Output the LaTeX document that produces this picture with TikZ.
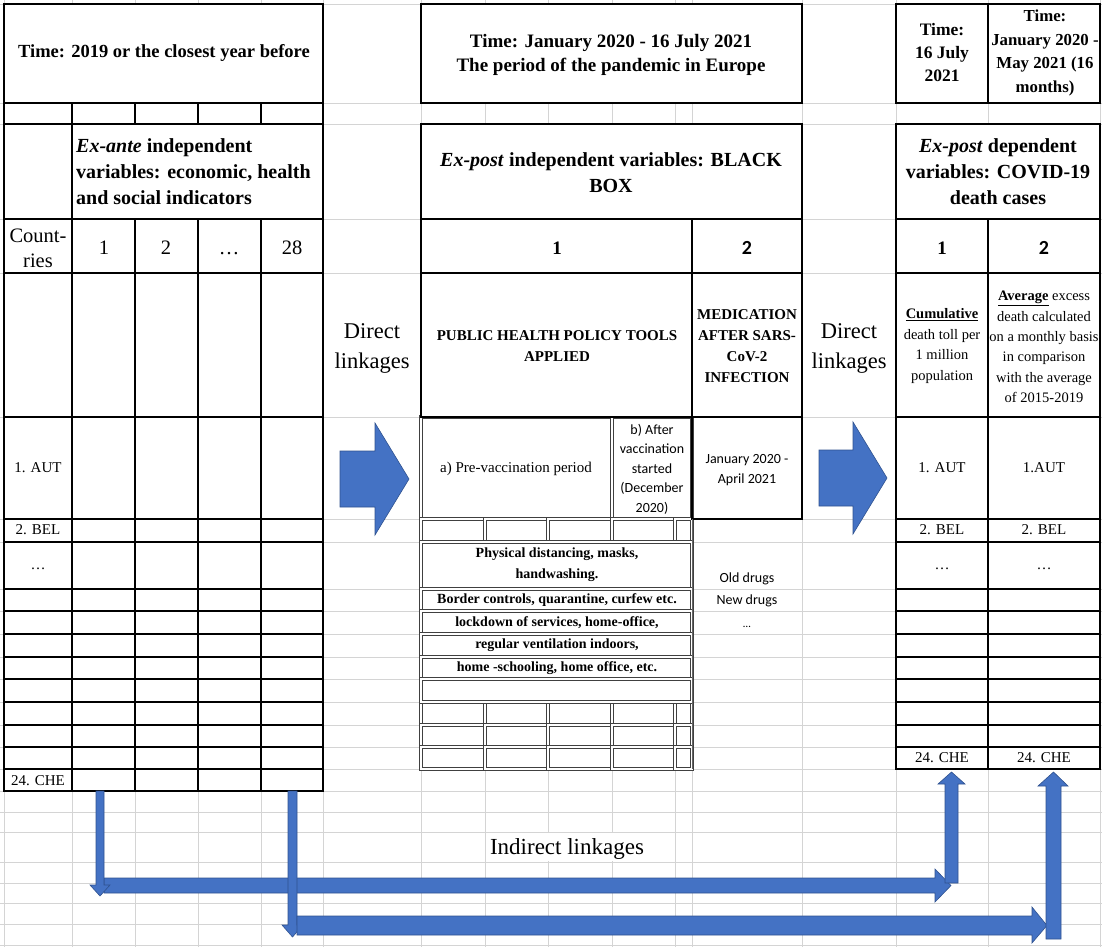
\documentclass[tikz,border=0pt]{standalone}
\usepackage{fontspec}
\setmainfont{Liberation Serif}
\newfontfamily\calibri{Carlito}

\definecolor{gridgray}{HTML}{D4D4D4}
\definecolor{arrowblue}{HTML}{4472C4}
\definecolor{arrowedge}{HTML}{2F528F}

\newcommand{\fsz}[2]{\fontsize{#1}{#2}\selectfont}
% cell with an Excel-like double border
\newcommand{\dblcell}[4]{%
  \filldraw[fill=white, dblline] (#1-1.4,#2-1.4) rectangle (#3+1.4,#4+1.4);
  \draw[dblline] (#1+1.4,#2+1.4) rectangle (#3-1.4,#4-1.4);}

\tikzset{
  gridline/.style={draw=gridgray, line width=0.9pt},
  thinbox/.style={draw=black, line width=1.1pt},
  thickbox/.style={draw=black, line width=2.2pt},
  dblline/.style={draw=black!75, line width=0.6pt},
  blockarrow/.style={fill=arrowblue, draw=arrowedge, line width=0.6pt, line join=miter},
  lbl/.style={align=center, inner sep=0pt},
}

\begin{document}
\begin{tikzpicture}[x=1pt, y=-1pt]
  \useasboundingbox (0,0) rectangle (1102,947);

  % Spreadsheet grid in the background
  \foreach \x in {4,72,135,198,261,323,421,485,548,612,675,692,802,896,988,1100}
    \draw[gridline] (\x,0) -- (\x,947);
  \foreach \y in {4,103,124,219,273,417,519,542,589,611,634,657,679,702,725,747,769,791,812,832,862,883,903,924,945}
    \draw[gridline] (0,\y) -- (1102,\y);

  % Left table: ex-ante variables
  \filldraw[fill=white, draw=black, line width=1.8pt] (4,4) rectangle (323,103);
  \filldraw[fill=white, thinbox] (4,103) rectangle (323,791);
  \foreach \y in {124,219,273,417,519,542,589,611,634,657,679,702,725,747,769}
    \draw[thinbox] (4,\y) -- (323,\y);
  \draw[thinbox] (72,103) -- (72,791);
  \foreach \x in {135,198,261} {
    \draw[thinbox] (\x,103) -- (\x,124);
    \draw[thinbox] (\x,219) -- (\x,791);
  }

  % Black box
  \filldraw[fill=white, thickbox] (421,4) rectangle (802,103);
  \filldraw[fill=white, thickbox] (421,124) rectangle (802,219);
  \filldraw[fill=white, thickbox] (421,219) rectangle (692,273);
  \filldraw[fill=white, thickbox] (692,219) rectangle (802,273);
  \dblcell{421}{417}{612}{519}
  \dblcell{612}{417}{692}{519}
  \foreach \y/\yy in {519/542, 702/725, 725/747, 747/769}
    \foreach \x/\xx in {421/485, 485/548, 548/612, 612/675, 675/692}
      \dblcell{\x}{\y}{\xx}{\yy};
  \foreach \y/\yy in {542/589, 589/611, 611/634, 634/657, 657/679, 679/702}
    \dblcell{421}{\y}{692}{\yy};
  \filldraw[fill=white, thinbox] (421,273) rectangle (692,417);
  \filldraw[fill=white, thinbox] (692,273) rectangle (802,417);
  \draw[thinbox] (692,417) rectangle (802,519);
  \draw[draw=black!60, line width=0.8pt] (692,519) -- (692,769);

  % Right table: ex-post dependent variables
  \filldraw[fill=white, draw=black, line width=2pt] (896,4) rectangle (1100,103);
  \draw[black, line width=2pt] (988,4) -- (988,103);
  \filldraw[fill=white, thinbox] (896,124) rectangle (1100,219);
  \draw[thinbox] (896,219) rectangle (1100,769);
  \draw[thinbox] (988,219) -- (988,769);
  \foreach \y in {273,417,519,542,589,611,634,657,679,702,725,747}
    \draw[thinbox] (896,\y) -- (1100,\y);

  % Left table texts
  \node[lbl, font=\fsz{18.5}{22}\bfseries] (timeleft) at (164,53) {Time: 2019 or the closest year before};
  \node[lbl, align=left, anchor=west, font=\fsz{20}{26}\bfseries] (exante) at (76,172)
    {\textit{Ex-ante} independent\\variables: economic, health\\and social indicators};
  \node[lbl, font=\fsz{20.5}{25}] (countries) at (38,248) {Count-\\ries};
  \node[lbl, font=\fsz{20.5}{25}] (var1) at (104,248) {1};
  \node[lbl, font=\fsz{20.5}{25}] (var2) at (166,248) {2};
  \node[lbl, font=\fsz{20.5}{25}] (var3) at (229,254) {…};
  \node[lbl, font=\fsz{20.5}{25}] (var28) at (292,248) {28};
  \node[lbl, font=\fsz{15}{18}] (autL) at (38,468) {1. AUT};
  \node[lbl, font=\fsz{15}{18}] (belL) at (38,530) {2. BEL};
  \node[lbl, font=\fsz{15}{18}] (dotsL) at (38,569) {…};
  \node[lbl, font=\fsz{15}{18}] (cheL) at (38,781) {24. CHE};

  % Direct linkages
  \node[lbl, font=\fsz{22.5}{30}] (direct1) at (372,348) {Direct\\linkages};
  \node[lbl, font=\fsz{22.5}{30}] (direct2) at (849,348) {Direct\\linkages};
  \filldraw[blockarrow] (340,451) -- (375,451) -- (375,423) -- (409,479) -- (375,535) -- (375,507) -- (340,507) -- cycle;
  \filldraw[blockarrow] (819,450) -- (853,450) -- (853,422) -- (887,478) -- (853,534) -- (853,506) -- (819,506) -- cycle;

  % Black box texts
  \node[lbl, font=\fsz{19}{24}\bfseries] (timemid) at (611,55)
    {Time: January 2020 - 16 July 2021\\The period of the pandemic in Europe};
  \node[lbl, font=\fsz{20}{26}\bfseries] (expostind) at (611,173)
    {\textit{Ex-post} independent variables: BLACK\\BOX};
  \node[lbl, font=\fsz{19}{24}\bfseries] (box1) at (557,248) {1};
  \node[lbl, font=\fsz{20}{24}\calibri\bfseries] (box2) at (747,248) {2};
  \node[lbl, font=\fsz{15}{21}\bfseries] (policy) at (557,346) {PUBLIC HEALTH POLICY TOOLS\\APPLIED};
  \node[lbl, font=\fsz{15}{21}\bfseries] (medic) at (747,346) {MEDICATION\\AFTER SARS-\\CoV-2\\INFECTION};
  \node[lbl, font=\fsz{15}{18}] (prevac) at (516,469) {a) Pre-vaccination period};
  \node[lbl, font=\fsz{14}{19.5}\calibri] (aftervac) at (652,469) {b) After\\vaccination\\started\\(December\\2020)};
  \node[lbl, font=\fsz{14}{20}\calibri] (medperiod) at (747,470) {January 2020 -\\April 2021};
  \node[lbl, font=\fsz{14}{21}\bfseries] (tool1) at (557,565) {Physical distancing, masks,\\handwashing.};
  \node[lbl, font=\fsz{14}{21}\bfseries] (tool2) at (557,600) {Border controls, quarantine, curfew etc.};
  \node[lbl, font=\fsz{14}{21}\bfseries] (tool3) at (557,622.5) {lockdown of services, home-office,};
  \node[lbl, font=\fsz{14}{21}\bfseries] (tool4) at (557,645.5) {regular ventilation indoors,};
  \node[lbl, font=\fsz{14}{21}\bfseries] (tool5) at (557,668) {home -schooling, home office, etc.};
  \node[lbl, font=\fsz{14}{18}\calibri] (drug1) at (747,579) {Old drugs};
  \node[lbl, font=\fsz{14}{18}\calibri] (drug2) at (747,601) {New drugs};
  \node[lbl, font=\fsz{11}{14}\calibri] (drug3) at (747,627) {…};

  % Right table texts
  \node[lbl, font=\fsz{17.5}{23}\bfseries] (timer1) at (942,53) {Time:\\16 July\\2021};
  \node[lbl, font=\fsz{16.8}{23.5}\bfseries] (timer2) at (1045,53) {Time:\\January 2020 -\\May 2021 (16\\months)};
  \node[lbl, font=\fsz{20}{26}\bfseries] (expostdep) at (998,172)
    {\textit{Ex-post} dependent\\variables: COVID-19\\death cases};
  \node[lbl, font=\fsz{19}{24}\bfseries] (dep1) at (942,248) {1};
  \node[lbl, font=\fsz{20}{24}\calibri\bfseries] (dep2) at (1044,248) {2};
  \node[lbl, font=\fsz{14.5}{20.5}] (cumul) at (942,346)
    {\underline{\textbf{Cumulative}}\\death toll per\\1 million\\population};
  \node[lbl, font=\fsz{14.5}{20.4}] (avg) at (1044,347)
    {\underline{\textbf{Average}} excess\\death calculated\\on a monthly basis\\in comparison\\with the average\\of 2015-2019};
  \node[lbl, font=\fsz{15}{18}] (autR1) at (942,468) {1. AUT};
  \node[lbl, font=\fsz{15}{18}] (autR2) at (1044,468) {1.AUT};
  \node[lbl, font=\fsz{15}{18}] (belR1) at (942,530) {2. BEL};
  \node[lbl, font=\fsz{15}{18}] (belR2) at (1044,530) {2. BEL};
  \node[lbl, font=\fsz{15}{18}] (dotsR1) at (942,569) {…};
  \node[lbl, font=\fsz{15}{18}] (dotsR2) at (1044,569) {…};
  \node[lbl, font=\fsz{15}{18}] (cheR1) at (942,758) {24. CHE};
  \node[lbl, font=\fsz{15}{18}] (cheR2) at (1044,758) {24. CHE};

  % Indirect linkages
  \fill[white] (486,833) rectangle (674,861);
  \node[lbl, font=\fsz{23}{28}] (indirect) at (567,849) {Indirect linkages};
  \filldraw[blockarrow] (104,878) -- (935,878) -- (935,869) -- (951,885.5) -- (935,902) -- (935,893) -- (104,893) -- cycle;
  \filldraw[blockarrow] (96,791) -- (104,791) -- (104,885) -- (110,885) -- (100,896) -- (90,885) -- (96,885) -- cycle;
  \filldraw[blockarrow] (288,791) -- (297,791) -- (297,925) -- (303,925) -- (292.5,937) -- (282,925) -- (288,925) -- cycle;
  \filldraw[blockarrow] (297,916) -- (1032,916) -- (1032,907) -- (1047,925.5) -- (1032,943) -- (1032,935) -- (297,935) -- cycle;
  \filldraw[blockarrow] (945,883) -- (945,784) -- (938,784) -- (951.5,772) -- (965,784) -- (958,784) -- (958,883) -- cycle;
  \filldraw[blockarrow] (1046,939) -- (1046,786) -- (1038,786) -- (1053.5,772) -- (1068,786) -- (1061,786) -- (1061,939) -- cycle;
\end{tikzpicture}
\end{document}
